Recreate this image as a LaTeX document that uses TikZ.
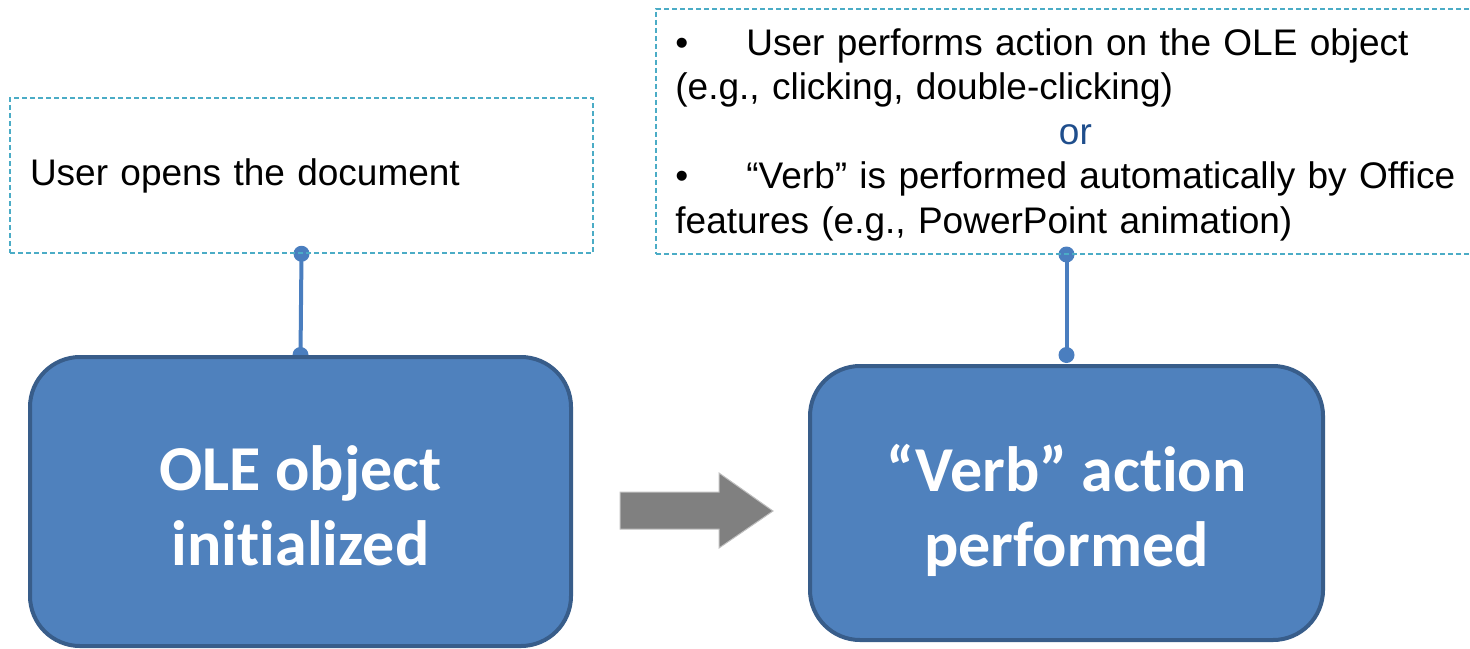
\documentclass[tikz,border=0pt]{standalone}
\usepackage{fontspec}
\setmainfont{Liberation Sans}[Ligatures={NoCommon}]
\newfontfamily\boxfont{Carlito}[Ligatures={NoCommon}]
\usetikzlibrary{backgrounds}
\definecolor{boxfill}{HTML}{4F81BD}
\definecolor{boxline}{HTML}{385D8A}
\definecolor{dashcol}{HTML}{4BACC6}
\definecolor{conncol}{HTML}{4A7EBF}
\definecolor{orcol}{HTML}{1F4E8C}
\definecolor{arrfill}{HTML}{808080}
\definecolor{arrline}{HTML}{BFBFBF}
\tikzset{
  x=0.5pt, y=-0.5pt,
  stepbox/.style={draw=boxline, fill=boxfill, line width=2pt, rounded corners=25pt,
    text=white, align=center, inner sep=0pt,
    font=\boxfont\bfseries\fontsize{32pt}{37.5pt}\selectfont},
  condbox/.style={draw=dashcol, line width=0.75pt, dash pattern=on 2.5pt off 1.5pt,
    inner sep=0pt},
  conn/.style={draw=conncol, line width=2pt},
  dot/.style={fill=conncol},
  bodytext/.style={font=\fontsize{18.5pt}{22.25pt}\selectfont, text=black}
}
\begin{document}
\begin{tikzpicture}
\useasboundingbox (0,0) rectangle (1470,648);
\clip (0,0) rectangle (1470,648);
% condition boxes
\node[condbox, bodytext, minimum width=291.5pt, minimum height=77.5pt,
      text width=271.5pt, inner xsep=10pt, align=left] (c1) at (301.5,175.5)
      {User opens the document};
\node[condbox, anchor=north west, minimum width=420pt, minimum height=122.5pt] (c2) at (655,8) {};
\node[bodytext, anchor=north west, text width=400pt, inner sep=0pt] (t2) at (675,28)
  {\raggedright\makebox[35.5pt][l]{•}User performs action on the OLE object\\
   (e.g., clicking, double-clicking)\par
   {\centering\color{orcol}or\par}
   \makebox[35.5pt][l]{•}“Verb” is performed automatically by Office\\
   features (e.g., PowerPoint animation)\par};
% step boxes
\node[stepbox, minimum width=270.5pt, minimum height=144.5pt] (b1) at (300.5,501.5)
  {\rule{0pt}{27pt}OLE object\\initialized};
\node[stepbox, minimum width=256.5pt, minimum height=137pt] (b2) at (1066.5,503)
  {\rule{0pt}{31pt}“Verb” action\\performed};
% block arrow
\draw[fill=arrfill, draw=arrline, line width=0.5pt]
  (620,492) -- (719,492) -- (719,473) -- (773,511) -- (719,548) -- (719,529) -- (620,529) -- cycle;
% connectors
\begin{scope}[on background layer]
  \coordinate (e2) at ([yshift=4.5pt]b2.north);
  \draw[conn] (c1.south) -- (b1.north);
  \fill[dot] (c1.south) circle[radius=4pt];
  \fill[dot] (b1.north) circle[radius=4pt];
  \draw[conn] (c2.south -| e2) -- (e2);
  \fill[dot] (c2.south -| e2) circle[radius=4pt];
  \fill[dot] (e2) circle[radius=4pt];
\end{scope}
\end{tikzpicture}
\end{document}
